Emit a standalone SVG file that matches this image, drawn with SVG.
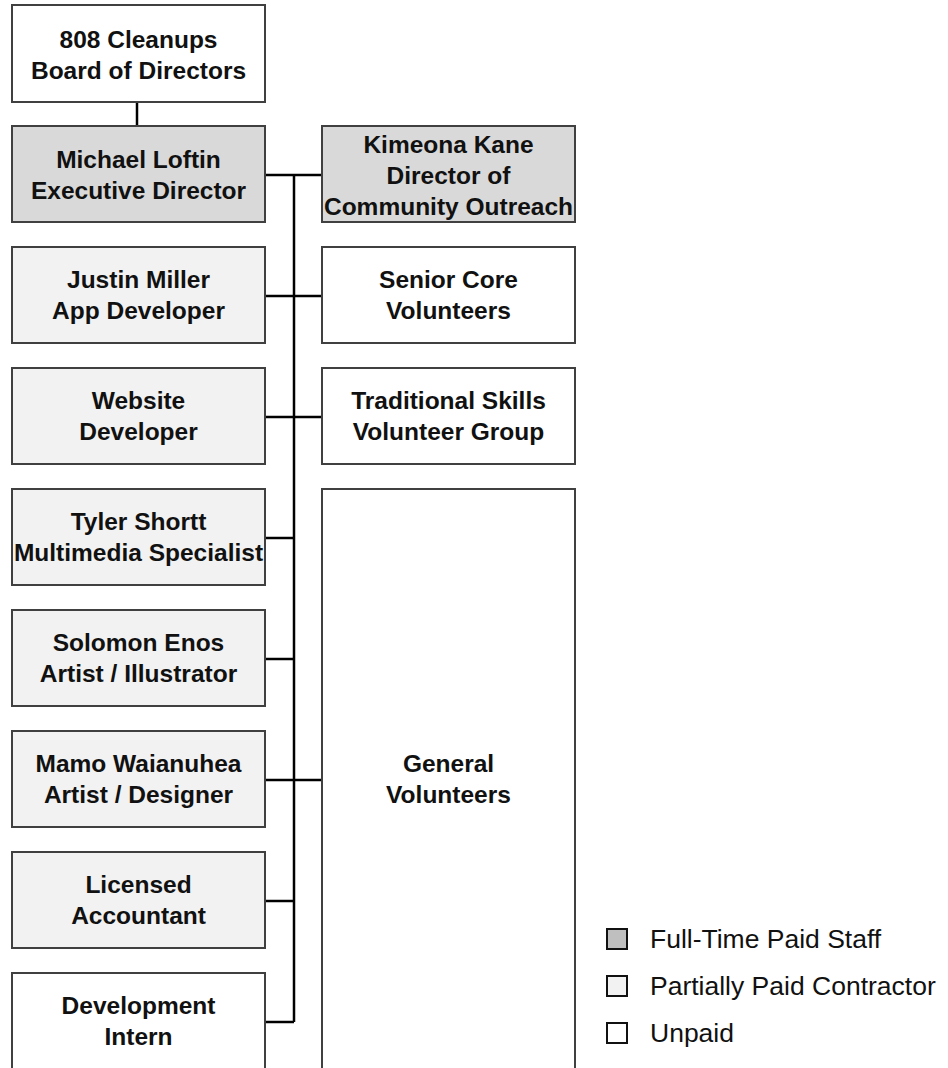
<svg xmlns="http://www.w3.org/2000/svg" width="948" height="1068" viewBox="0 0 948 1068">
<style>
.box{stroke:#404040;stroke-width:2}
.full{fill:#d9d9d9}
.part{fill:#f2f2f2}
.unpaid{fill:#ffffff}
.t{font-family:"Liberation Sans",Arial,sans-serif;font-weight:bold;font-size:24.5px;fill:#111;text-anchor:middle}
.lg{font-family:"Liberation Sans",Arial,sans-serif;font-size:26.5px;fill:#111}
.conn{stroke:#000;stroke-width:2.5;fill:none}
.sq{stroke:#111;stroke-width:2}
</style>
<rect width="948" height="1068" fill="#fff"/>
<g id="connectors">
<line class="conn" x1="137" y1="102" x2="137" y2="126"/>
<line class="conn" x1="294" y1="175" x2="294" y2="1022"/>
<line class="conn" x1="265" y1="175" x2="322" y2="175"/>
<line class="conn" x1="265" y1="296" x2="322" y2="296"/>
<line class="conn" x1="265" y1="417" x2="322" y2="417"/>
<line class="conn" x1="265" y1="538" x2="294" y2="538"/>
<line class="conn" x1="265" y1="659" x2="294" y2="659"/>
<line class="conn" x1="265" y1="780" x2="322" y2="780"/>
<line class="conn" x1="265" y1="901" x2="294" y2="901"/>
<line class="conn" x1="265" y1="1022" x2="294" y2="1022"/>
</g>
<g id="board"><rect class="box unpaid" x="12" y="5" width="253" height="97"/>
<text class="t" x="138.5" y="48">808 Cleanups</text><text class="t" x="138.5" y="79">Board of Directors</text></g>
<g id="michael"><rect class="box full" x="12" y="126" width="253" height="96"/>
<text class="t" x="138.5" y="168">Michael Loftin</text><text class="t" x="138.5" y="199">Executive Director</text></g>
<g id="justin"><rect class="box part" x="12" y="247" width="253" height="96"/>
<text class="t" x="138.5" y="288">Justin Miller</text><text class="t" x="138.5" y="319">App Developer</text></g>
<g id="website"><rect class="box part" x="12" y="368" width="253" height="96"/>
<text class="t" x="138.5" y="409">Website</text><text class="t" x="138.5" y="440">Developer</text></g>
<g id="tyler"><rect class="box part" x="12" y="489" width="253" height="96"/>
<text class="t" x="138.5" y="530">Tyler Shortt</text><text class="t" x="138.5" y="561">Multimedia Specialist</text></g>
<g id="solomon"><rect class="box part" x="12" y="610" width="253" height="96"/>
<text class="t" x="138.5" y="651">Solomon Enos</text><text class="t" x="138.5" y="682">Artist / Illustrator</text></g>
<g id="mamo"><rect class="box part" x="12" y="731" width="253" height="96"/>
<text class="t" x="138.5" y="772">Mamo Waianuhea</text><text class="t" x="138.5" y="803">Artist / Designer</text></g>
<g id="accountant"><rect class="box part" x="12" y="852" width="253" height="96"/>
<text class="t" x="138.5" y="893">Licensed</text><text class="t" x="138.5" y="924">Accountant</text></g>
<g id="intern"><rect class="box unpaid" x="12" y="973" width="253" height="100"/>
<text class="t" x="138.5" y="1014">Development</text><text class="t" x="138.5" y="1045">Intern</text></g>
<g id="kimeona"><rect class="box full" x="322" y="126" width="253" height="96"/>
<text class="t" x="448.5" y="153">Kimeona Kane</text><text class="t" x="448.5" y="184">Director of</text><text class="t" x="448.5" y="215">Community Outreach</text></g>
<g id="senior"><rect class="box unpaid" x="322" y="247" width="253" height="96"/>
<text class="t" x="448.5" y="288">Senior Core</text><text class="t" x="448.5" y="319">Volunteers</text></g>
<g id="traditional"><rect class="box unpaid" x="322" y="368" width="253" height="96"/>
<text class="t" x="448.5" y="409">Traditional Skills</text><text class="t" x="448.5" y="440">Volunteer Group</text></g>
<g id="general"><rect class="box unpaid" x="322" y="489" width="253" height="600"/>
<text class="t" x="448.5" y="772">General</text><text class="t" x="448.5" y="803">Volunteers</text></g>
<g id="legend">
<rect class="sq" x="607" y="929" width="20" height="20" fill="#bfbfbf"/>
<text class="lg" x="650" y="948">Full-Time Paid Staff</text>
<rect class="sq" x="607" y="976" width="20" height="20" fill="#f2f2f2"/>
<text class="lg" x="650" y="995">Partially Paid Contractor</text>
<rect class="sq" x="607" y="1023" width="20" height="20" fill="#ffffff"/>
<text class="lg" x="650" y="1042">Unpaid</text>
</g>
</svg>
